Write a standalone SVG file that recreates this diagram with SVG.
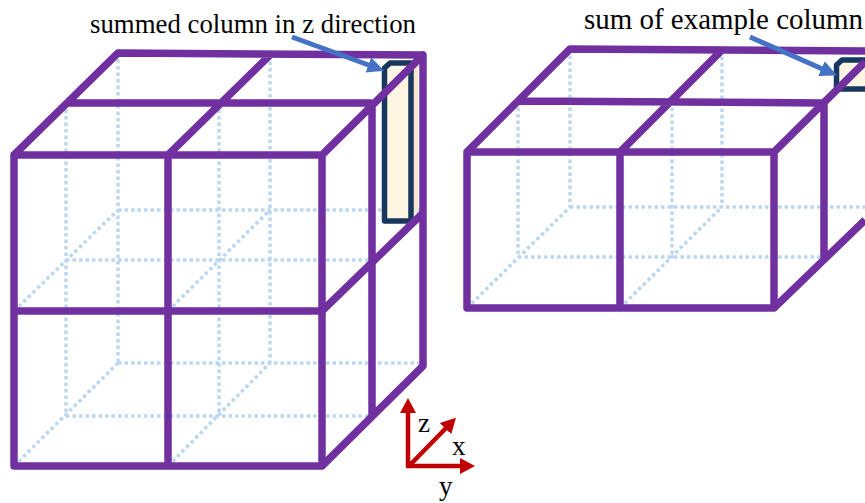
<svg xmlns="http://www.w3.org/2000/svg" width="865" height="503" viewBox="0 0 865 503">
<style>
.p{fill:none;stroke:#7030a0;stroke-width:7.500;stroke-linejoin:round}
.d{fill:none;stroke:#bdd7ee;stroke-width:3.5;stroke-dasharray:3.5 3}
.c{fill:#fff5e3;stroke:#17375e;stroke-width:5.500;stroke-linejoin:round}
.t{font-family:"Liberation Serif",serif;font-size:27px;fill:#000}
.b{stroke:#4472c4;stroke-width:5;fill:none}
.r{stroke:#c00000;stroke-width:4.5;fill:none}
</style>
<defs>
<marker id="ab" markerUnits="userSpaceOnUse" markerWidth="20" markerHeight="18" refX="6" refY="8" orient="auto"><path d="M0 0L17 8L0 16z" fill="#4472c4"/></marker>
<marker id="ar" markerUnits="userSpaceOnUse" markerWidth="20" markerHeight="18" refX="5" refY="8" orient="auto"><path d="M0 0L15 8L0 16z" fill="#c00000"/></marker>
</defs>
<g id="cube-left-hidden">
<path class="d" d="M118 53V363M270 55V363M118 210H424M118 363H424M66 103V416M219 103V416M66 260H372M66 416H372M14 311L118 210M168 311L270 210M14 466L118 363M168 466L270 363"/>
</g>
<g id="column-left">
<path d="M412 62H418V213H412z" fill="#f5e6d0"/>
<path class="c" d="M384.500 68L390 63H411V221H384.500z"/>
</g>
<g id="cube-left">
<path class="p" d="M14 155H322V466H14zM168 155V466M14 311H322M14 155L118 53L423 55M66 103H372M168 155L270 55M322 155L423 55V366L322 466M372 103V417M322 311L423 213"/>
</g>
<g id="cube-right-hidden">
<path class="d" d="M570 49V207M722 50V207M570 207H865M518 101V257M672 101V257M518 257H825M467 308L570 207M620 308L722 207"/>
</g>
<g id="column-right">
<path class="c" d="M836.500 65L842 60H868V89H836.500z"/>
</g>
<g id="cube-right">
<path class="p" d="M467 152H774V308H467zM620 152V308M467 152L570 49L865 51M518 101L824 103M620 152L722 50M774 152L865 62M824 103V258M774 308L865 220"/>
</g>
<g id="connectors">
<path class="b" marker-end="url(#ab)" d="M292 37L374 67"/>
<path class="b" marker-end="url(#ab)" d="M750 37L827 71"/>
<path class="r" marker-end="url(#ar)" d="M408 467V408"/>
<path class="r" marker-end="url(#ar)" d="M408 467L449 425"/>
<path class="r" marker-end="url(#ar)" d="M406 466H465"/>
</g>
<g id="labels">
<text class="t" x="90" y="33" textLength="326" lengthAdjust="spacingAndGlyphs">summed column in z direction</text>
<text class="t" x="584" y="29" style="font-size:29px" textLength="279" lengthAdjust="spacingAndGlyphs">sum of example column</text>
<text class="t" x="418" y="432">z</text>
<text class="t" x="452" y="455">x</text>
<text class="t" x="439" y="495">y</text>
</g>
</svg>
